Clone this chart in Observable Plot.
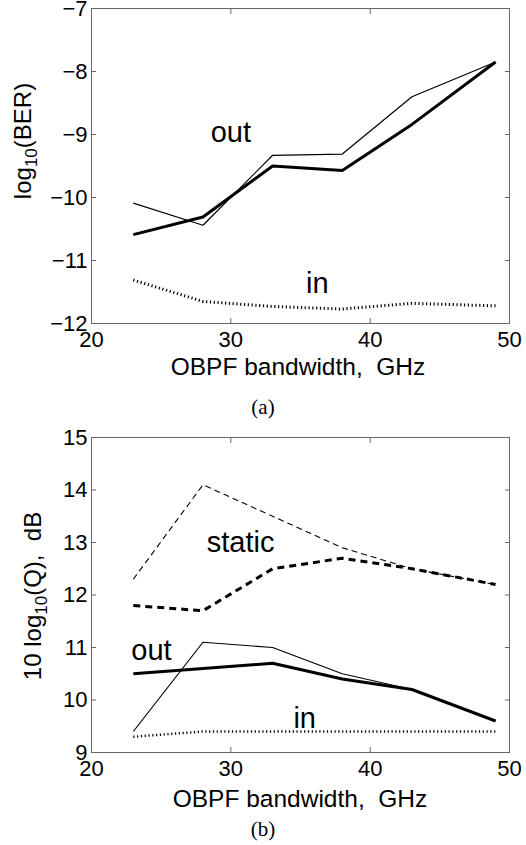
<!DOCTYPE html>
<html>
<head>
<meta charset="utf-8">
<script src="https://cdn.jsdelivr.net/npm/d3@7"></script>
<script src="https://cdn.jsdelivr.net/npm/@observablehq/plot@0.6"></script>
<style>
  html, body { margin: 0; padding: 0; background: #fff; }
  #page { position: relative; width: 526px; height: 845px; overflow: hidden; }
  .panel { position: absolute; left: 0; }
  .cap { position: absolute; width: 526px; left: 0; text-align: center; font-family: "Liberation Serif", "Times New Roman", serif; font-size: 21px; color: #000; }
  svg text { font-family: "Liberation Sans", Arial, Helvetica, sans-serif; }
</style>
</head>
<body>
<div id="page">
  <div id="pa" class="panel" style="top:0px"></div>
  <div class="cap" style="top:395px">(a)</div>
  <div id="pb" class="panel" style="top:420px"></div>
  <div class="cap" style="top:817px">(b)</div>
</div>
<script>
// ---------- data ----------
const bandwidth = [23, 28, 33, 38, 43, 49];

// panel (a): log10(BER)
const berOutThick = [-10.59, -10.31, -9.50, -9.57, -8.84, -7.85];
const berOutThin  = [-10.09, -10.44, -9.33, -9.31, -8.40, -7.85];
const berIn       = [-11.31, -11.65, -11.73, -11.77, -11.68, -11.72];

// panel (b): 10 log10(Q), dB
const qStaticThin  = [12.3, 14.1, 13.5, 12.9, 12.5, 12.2];
const qStaticThick = [11.8, 11.7, 12.5, 12.7, 12.5, 12.2];
const qOutThin     = [9.4, 11.1, 11.0, 10.5, 10.2, 9.6];
const qOutThick    = [10.5, 10.6, 10.7, 10.4, 10.2, 9.6];
const qIn          = [9.3, 9.4, 9.4, 9.4, 9.4, 9.4];

const xTicks = [20, 30, 40, 50];
const yTicksA = [-12, -11, -10, -9, -8, -7];
const yTicksB = [9, 10, 11, 12, 13, 14, 15];

const annotA = [
  {label: "out", x: 30.0, y: -8.97},
  {label: "in", x: 36.2, y: -11.37}
];
const annotB = [
  {label: "static", x: 30.7, y: 12.99},
  {label: "out", x: 24.3, y: 10.93},
  {label: "in", x: 35.3, y: 9.64}
];

const xLabel = "OBPF bandwidth,  GHz";

// ---------- helpers ----------
const toRows = (ys) => bandwidth.map((x, i) => ({x, y: ys[i]}));
const frameColor = "#666";
const fmt = (d) => (d < 0 ? "\u2212" + Math.abs(d) : String(d));

function axes(yTicks) {
  return [
    Plot.frame({stroke: frameColor, strokeWidth: 1}),
    // labels
    Plot.axisX(xTicks, {anchor: "bottom", tickSize: 0, tickPadding: 8, fontSize: 22, tickFormat: fmt, label: null, fill: "#000"}),
    Plot.axisY(yTicks, {anchor: "left", tickSize: 0, tickPadding: 4, fontSize: 22, tickFormat: fmt, label: null, fill: "#000"}),
    // inward ticks on all four sides
    Plot.axisX(xTicks, {anchor: "bottom", tickSize: -5, tickFormat: () => "", label: null, stroke: frameColor}),
    Plot.axisX(xTicks, {anchor: "top", tickSize: -5, tickFormat: () => "", label: null, stroke: frameColor}),
    Plot.axisY(yTicks, {anchor: "left", tickSize: -5, tickFormat: () => "", label: null, stroke: frameColor}),
    Plot.axisY(yTicks, {anchor: "right", tickSize: -5, tickFormat: () => "", label: null, stroke: frameColor})
  ];
}

function addLabels(svg, yLabelParts, yLabelPos, xLabelPos) {
  const s = d3.select(svg);
  s.append("text")
    .attr("x", xLabelPos[0]).attr("y", xLabelPos[1])
    .attr("text-anchor", "middle")
    .style("white-space", "pre")
    .attr("font-size", 24.5)
    .attr("fill", "#000")
    .text(xLabel);
  const t = s.append("text")
    .attr("transform", `translate(${yLabelPos[0]},${yLabelPos[1]}) rotate(-90)`)
    .attr("text-anchor", "middle")
    .style("white-space", "pre")
    .attr("font-size", 24)
    .attr("fill", "#000");
  t.append("tspan").text(yLabelParts[0]);
  t.append("tspan").attr("font-size", 17).attr("dy", 6).text(yLabelParts[1]);
  t.append("tspan").attr("dy", -6).text(yLabelParts[2]);
}

const lineOpts = {x: "x", y: "y", stroke: "#000", strokeLinecap: "butt"};

// ---------- panel (a) ----------
const plotA = Plot.plot({
  width: 526, height: 390,
  marginLeft: 91, marginRight: 17, marginTop: 8, marginBottom: 67,
  x: {domain: [20, 50], axis: null},
  y: {domain: [-12, -7], axis: null},
  style: {fontFamily: "Liberation Sans, Arial, sans-serif", color: "#000", background: "#fff", overflow: "visible"},
  marks: [
    ...axes(yTicksA),
    Plot.line(toRows(berIn), {...lineOpts, strokeWidth: 3, strokeDasharray: "1.2,2.6"}),
    Plot.line(toRows(berOutThin), {...lineOpts, strokeWidth: 1.2}),
    Plot.line(toRows(berOutThick), {...lineOpts, strokeWidth: 3}),
    Plot.text(annotA, {x: "x", y: "y", text: "label", fontSize: 29, fill: "#000"})
  ]
});
document.getElementById("pa").append(plotA);
addLabels(plotA, ["log", "10", "(BER)"], [31, 141], [298, 375]);

// ---------- panel (b) ----------
const plotB = Plot.plot({
  width: 526, height: 420,
  marginLeft: 91, marginRight: 17, marginTop: 17, marginBottom: 88,
  x: {domain: [20, 50], axis: null},
  y: {domain: [9, 15], axis: null},
  style: {fontFamily: "Liberation Sans, Arial, sans-serif", color: "#000", background: "#fff", overflow: "visible"},
  marks: [
    ...axes(yTicksB),
    Plot.line(toRows(qIn), {...lineOpts, strokeWidth: 2.5, strokeDasharray: "1.2,2.6"}),
    Plot.line(toRows(qStaticThin), {...lineOpts, strokeWidth: 1.1, strokeDasharray: "6,4"}),
    Plot.line(toRows(qStaticThick), {...lineOpts, strokeWidth: 3, strokeDasharray: "7,5"}),
    Plot.line(toRows(qOutThin), {...lineOpts, strokeWidth: 1.2}),
    Plot.line(toRows(qOutThick), {...lineOpts, strokeWidth: 3}),
    Plot.text(annotB, {x: "x", y: "y", text: "label", fontSize: 29, fill: "#000"})
  ]
});
document.getElementById("pb").append(plotB);
addLabels(plotB, ["10 log", "10", "(Q),  dB"], [41, 176], [300, 387]);
</script>
</body>
</html>
